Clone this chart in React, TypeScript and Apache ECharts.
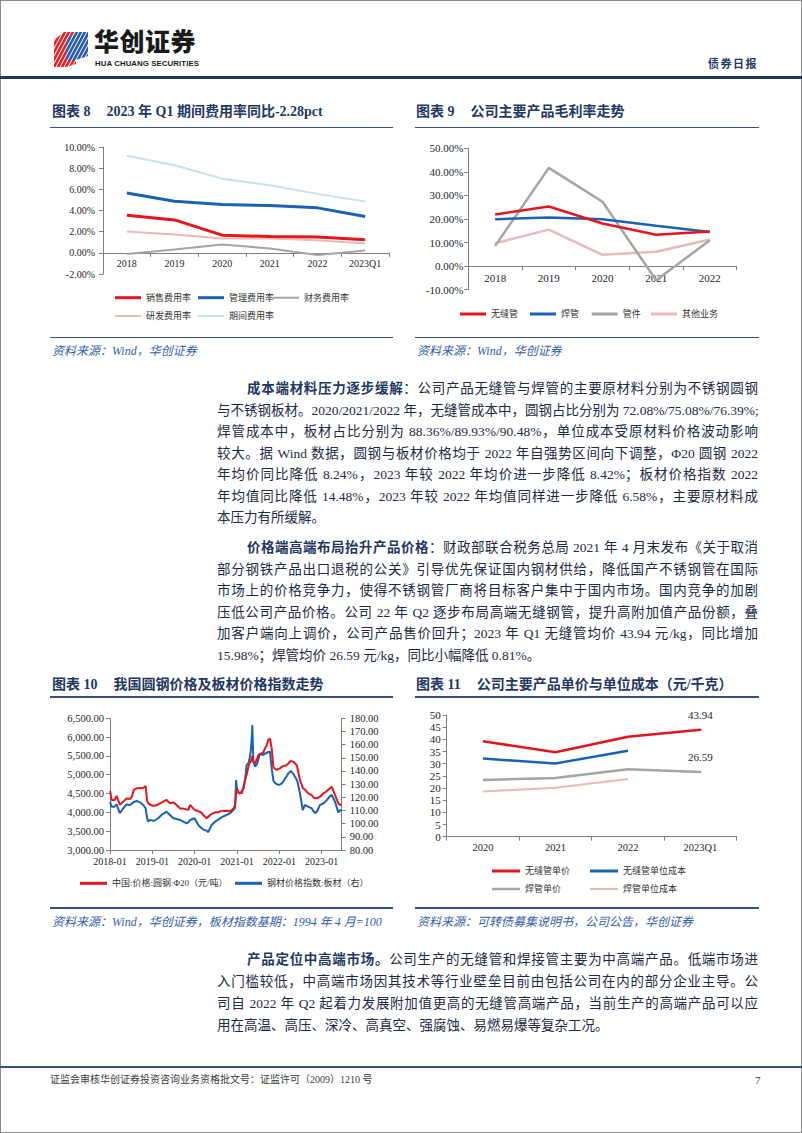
import React, { useEffect, useRef } from 'react';
import * as echarts from 'echarts';

// ---------- Chart 8 data ----------
const c8Cats = ['2018', '2019', '2020', '2021', '2022', '2023Q1'];
const c8Sales = [3.55, 3.11, 1.67, 1.54, 1.49, 1.23];
const c8Mgmt = [5.66, 4.87, 4.56, 4.47, 4.25, 3.43];
const c8Fin = [-0.1, 0.31, 0.79, 0.41, -0.2, 0.22];
const c8Rd = [2.01, 1.73, 1.35, 1.35, 1.2, 0.88];
const c8Period = [9.18, 8.27, 7.01, 6.38, 5.57, 4.84];

// ---------- Chart 9 data ----------
const c9Cats = ['2018', '2019', '2020', '2021', '2022'];
const c9Seamless = [21.9, 25.3, 18.1, 13.3, 14.7];
const c9Welded = [19.9, 20.6, 19.9, 17.1, 14.5];
const c9Fittings = [8.6, 41.7, 27.3, -6.0, 11.0];
const c9Other = [9.7, 15.5, 4.8, 6.1, 11.3];

// ---------- Chart 10 data ----------
const c10Dates = [
  '2018-01-02', '2018-01-15', '2018-02-10', '2018-02-27', '2018-03-27', '2018-04-25', '2018-05-24', '2018-06-22',
  '2018-07-10', '2018-07-25', '2018-08-19', '2018-09-17', '2018-10-15', '2018-11-04', '2018-11-18', '2018-11-27',
  '2018-12-11', '2019-01-01', '2019-01-14', '2019-02-21', '2019-03-21', '2019-04-05', '2019-05-04', '2019-06-02',
  '2019-07-01', '2019-07-30', '2019-08-28', '2019-09-25', '2019-10-24', '2019-11-08', '2019-11-22', '2020-01-01',
  '2020-02-01', '2020-03-02', '2020-03-16', '2020-04-14', '2020-04-28', '2020-05-13', '2020-05-27', '2020-06-25',
  '2020-07-24', '2020-08-07', '2020-09-05', '2020-10-04', '2020-11-02', '2020-12-01', '2020-12-15', '2020-12-24',
  '2021-01-01', '2021-01-12', '2021-01-27', '2021-02-10', '2021-02-25', '2021-03-11', '2021-03-25', '2021-04-09',
  '2021-04-17', '2021-04-29', '2021-05-08', '2021-05-13', '2021-05-22', '2021-06-06', '2021-06-25', '2021-07-04',
  '2021-07-19', '2021-08-02', '2021-08-16', '2021-08-31', '2021-09-14', '2021-09-28', '2021-10-12', '2021-10-27',
  '2021-11-10', '2021-11-16', '2021-12-09', '2021-12-23', '2022-01-07', '2022-01-22', '2022-02-05', '2022-02-20',
  '2022-03-06', '2022-03-20', '2022-04-09', '2022-05-01', '2022-05-07', '2022-05-30', '2022-06-05', '2022-06-28',
  '2022-07-22', '2022-08-11', '2022-08-25', '2022-09-09', '2022-09-23', '2022-10-07', '2022-10-22', '2022-11-05',
  '2022-11-25', '2022-12-18', '2023-01-16', '2023-01-31', '2023-02-14', '2023-03-15', '2023-03-29', '2023-04-26',
  '2023-05-25', '2023-06-08', '2023-06-23',
];
const c10RoundSteel = [
  4570, 4330, 4330, 4440, 4200, 4285, 4370, 4355,
  4420, 4600, 4640, 4640, 4655, 4700, 4290, 4250,
  4210, 4180, 4175, 4210, 4260, 4285, 4330, 4240,
  4265, 4195, 4105, 4100, 4080, 4065, 4195, 4065,
  4035, 3990, 3930, 3845, 3880, 3930, 3960, 4000,
  4000, 4030, 4036, 4045, 4030, 4100, 4196, 4500,
  4640, 4533, 4520, 4506, 4650, 4860, 5000, 5214,
  5300, 5350, 5436, 5500, 5350, 5304, 5450, 5525,
  5540, 5569, 5600, 5702, 5780, 5923, 5968, 5702,
  5214, 5180, 5127, 5150, 5170, 5214, 5230, 5240,
  5259, 5300, 5365, 5348, 5330, 5259, 5200, 4860,
  4650, 4600, 4550, 4506, 4480, 4462, 4400, 4373,
  4380, 4417, 4506, 4530, 4568, 4639, 4683, 4462,
  4240, 4196, 4213,
];
const c10PlateIndex = [
  116.7, 112.9, 112.9, 114.6, 107.9, 111.7, 114.6, 114.2,
  115.4, 116.5, 117.2, 116.2, 114.2, 111.7, 104.0, 101.5,
  102.8, 102.5, 102.0, 104.1, 106.6, 107.5, 109.1, 106.6,
  104.1, 103.5, 102.8, 101.5, 100.3, 101.0, 102.8, 104.1,
  99.0, 96.5, 95.5, 94.7, 93.5, 96.5, 99.0, 101.5,
  103.0, 104.1, 105.5, 106.6, 107.9, 110.4, 112.0, 133.1,
  126.0, 123.5, 122.9, 124.5, 126.7, 133.0, 144.5, 146.0,
  148.3, 154.6, 165.0, 174.9, 147.0, 143.2, 145.8, 149.0,
  153.4, 152.5, 152.1, 153.4, 153.4, 154.6, 154.6, 142.0,
  133.0, 131.9, 130.0, 129.4, 129.8, 130.6, 132.0, 134.4,
  136.0, 138.2, 140.0, 138.0, 137.0, 133.5, 132.4, 123.0,
  110.4, 114.2, 113.5, 112.9, 112.2, 111.7, 109.5, 107.9,
  109.6, 114.2, 115.4, 116.5, 117.9, 121.0, 121.8, 116.7,
  108.6, 110.4, 109.6,
];

// ---------- Chart 11 data ----------
const c11Cats = ['2020', '2021', '2022', '2023Q1'];
const c11SeamlessPrice = [39.2, 34.7, 41.1, 43.94];
const c11SeamlessCost = [32.1, 30.1, 35.3, null];
const c11WeldedPrice = [23.3, 24.1, 27.7, 26.59];
const c11WeldedCost = [18.6, 20.1, 23.7, null];

const FONT = "'Liberation Serif','Times New Roman','Noto Sans CJK SC',serif";
const AX = '#7f7f7f';
const RED = '#e3161e';
const BLUE = '#1a62b6';
const GRAY = '#a5a5a5';
const PINK = '#e9b9bb';
const LBLUE = '#c6e2ea';
const NAVY = '#1f3864';

function EChart({ option, style }: { option: any; style: React.CSSProperties }) {
  const ref = useRef<HTMLDivElement>(null);
  useEffect(() => {
    const chart = echarts.init(ref.current as HTMLDivElement, null, { renderer: 'svg' });
    chart.setOption(option);
    return () => chart.dispose();
  }, []);
  return <div ref={ref} style={{ position: 'absolute', ...style }} />;
}

function lg(name: string, left: number, centerY: number, thick: number, itemWidth = 26) {
  return {
    data: [name],
    left,
    top: centerY - 6,
    padding: 0,
    icon: 'rect',
    itemWidth,
    itemHeight: thick,
    selectedMode: false,
    textStyle: { fontSize: 9, color: '#333', fontFamily: FONT, lineHeight: 12 },
  };
}

function line(name: string, data: any[], color: string, width: number, extra: any = {}) {
  return {
    type: 'line',
    name,
    data,
    symbol: 'none',
    lineStyle: { color, width },
    itemStyle: { color },
    ...extra,
  };
}

const catX = (data: string[], fontSize: number, margin: number, offset: number) => ({
  type: 'category',
  data,
  boundaryGap: true,
  offset,
  axisLine: { onZero: false, lineStyle: { color: AX } },
  axisTick: { show: true, length: 4, lineStyle: { color: AX } },
  axisLabel: { fontSize, color: '#262626', fontFamily: FONT, margin },
});

const valY = (min: number, max: number, interval: number, formatter: any, fontSize = 10, margin = 8) => ({
  type: 'value',
  min,
  max,
  interval,
  axisLine: { show: true, onZero: false, lineStyle: { color: AX } },
  axisTick: { show: true, length: 4, lineStyle: { color: AX } },
  splitLine: { show: false },
  axisLabel: { formatter, fontSize, color: '#262626', fontFamily: FONT, margin },
});

// chart 8: grid height 127, zero sits 2/12 of it above the bottom
const opt8 = {
  animation: false,
  grid: { left: 63, top: 12, width: 286, height: 127 },
  xAxis: catX(c8Cats, 10, 6, -127 * (2 / 12)),
  yAxis: valY(-2, 10, 2, (v: number) => v.toFixed(2) + '%', 10, 8),
  legend: [
    lg('销售费用率', 75, 162.7, 3),
    lg('管理费用率', 158, 162.7, 3),
    lg('财务费用率', 233, 162.7, 2),
    lg('研发费用率', 75, 181, 2),
    lg('期间费用率', 158, 181, 2),
  ],
  series: [
    line('期间费用率', c8Period, LBLUE, 2),
    line('研发费用率', c8Rd, PINK, 2),
    line('财务费用率', c8Fin, GRAY, 2),
    line('管理费用率', c8Mgmt, BLUE, 3),
    line('销售费用率', c8Sales, RED, 3),
  ],
};

// chart 9: grid height 141.4, zero sits 10/60 of it above the bottom
const opt9 = {
  animation: false,
  grid: { left: 63.3, top: 13.3, width: 268.4, height: 141.4 },
  xAxis: catX(c9Cats, 11, 6, -141.4 * (10 / 60)),
  yAxis: valY(-10, 50, 10, (v: number) => v.toFixed(2) + '%', 11, 5),
  legend: [
    lg('无缝管', 55, 179, 3),
    lg('焊管', 125, 179, 3),
    lg('管件', 186.7, 179, 3),
    lg('其他业务', 246, 179, 3),
  ],
  series: [
    line('其他业务', c9Other, PINK, 2.5),
    line('管件', c9Fittings, GRAY, 2.5),
    line('焊管', c9Welded, BLUE, 2.5),
    line('无缝管', c9Seamless, RED, 2.5),
  ],
};

const opt10 = {
  animation: false,
  grid: { left: 70, top: 13.3, width: 231.7, height: 131.7 },
  xAxis: {
    type: 'time',
    min: '2018-01-01',
    max: '2023-06-23',
    axisLine: { onZero: false, lineStyle: { color: AX } },
    axisTick: { show: true, length: 4, lineStyle: { color: AX } },
    splitLine: { show: false },
    axisLabel: { formatter: '{yyyy}-{MM}', fontSize: 10, color: '#262626', fontFamily: FONT, margin: 6, hideOverlap: false },
  },
  yAxis: [
    valY(3000, 6500, 500, (v: number) => v.toLocaleString('en-US', { minimumFractionDigits: 2, maximumFractionDigits: 2 }), 10.5, 6),
    { ...valY(80, 180, 10, (v: number) => v.toFixed(2), 10.5, 8), position: 'right' },
  ],
  legend: [lg('中国:价格:圆钢:Φ20（元/吨）', 40, 178.3, 3, 27), lg('钢材价格指数:板材（右）', 195, 178.3, 3, 27)],
  series: [
    line('钢材价格指数:板材（右）', c10Dates.map((d, i) => [d, c10PlateIndex[i]]), BLUE, 2, { yAxisIndex: 1 }),
    line('中国:价格:圆钢:Φ20（元/吨）', c10Dates.map((d, i) => [d, c10RoundSteel[i]]), RED, 2, { yAxisIndex: 0 }),
  ],
};

const lastLabel = (arr: (number | null)[], color: string) =>
  arr.map((v, i) =>
    i === arr.length - 1 && v != null
      ? {
          value: v,
          symbol: 'circle',
          symbolSize: 2,
          itemStyle: { color },
          label: {
            show: true,
            position: 'top',
            distance: 8,
            fontSize: 11,
            color: '#262626',
            fontFamily: FONT,
            formatter: (p: any) => Number(p.value).toFixed(2),
          },
        }
      : v
  );

const opt11 = {
  animation: false,
  grid: { left: 41.7, top: 15, width: 290, height: 121.7 },
  xAxis: catX(c11Cats, 10.5, 6, 0),
  yAxis: valY(0, 50, 5, (v: number) => String(v), 11, 6),
  legend: [
    lg('无缝管单价', 87, 171, 3, 28),
    lg('无缝管单位成本', 185, 171, 3, 28),
    lg('焊管单价', 87, 189, 2.5, 28),
    lg('焊管单位成本', 185, 189, 2, 28),
  ],
  series: [
    line('焊管单位成本', c11WeldedCost, PINK, 2),
    line('焊管单价', lastLabel(c11WeldedPrice, GRAY), GRAY, 2.5),
    line('无缝管单位成本', c11SeamlessCost, BLUE, 2.5),
    line('无缝管单价', lastLabel(c11SeamlessPrice, RED), RED, 2.5),
  ],
};

// ---------- Page pieces ----------
const abs = (left: number, top: number, extra: React.CSSProperties = {}): React.CSSProperties => ({
  position: 'absolute',
  left,
  top,
  ...extra,
});

function Title({ x, y, num, text }: { x: number; y: number; num: string; text: string }) {
  return (
    <div style={abs(x, y - 9, { fontFamily: FONT, fontWeight: 700, fontSize: 14, lineHeight: '18px', color: NAVY, whiteSpace: 'nowrap' })}>
      <span>图表 {num}</span>
      <span style={{ marginLeft: 16 }}>{text}</span>
    </div>
  );
}

function HLine({ x, y, w, h = 1.5, color = '#3b4f7d' }: { x: number; y: number; w: number; h?: number; color?: string }) {
  return <div style={abs(x, y, { width: w, height: h, background: color })} />;
}

function Source({ x, y, text }: { x: number; y: number; text: string }) {
  return (
    <div style={abs(x, y - 8, { fontFamily: FONT, fontStyle: 'italic', fontSize: 12, lineHeight: '16px', color: '#3560aa', whiteSpace: 'nowrap' })}>
      {text}
    </div>
  );
}

const LEFT = 217;
const RIGHT = 758;
const INDENT = 247;

function TL({ y, first, last, children }: { y: number; first?: boolean; last?: boolean; children: React.ReactNode }) {
  const left = first ? INDENT : LEFT;
  return (
    <div
      style={abs(left, y - 10, {
        width: RIGHT - left,
        height: 20,
        lineHeight: '20px',
        fontSize: 13.5,
        fontFamily: FONT,
        color: '#1e2a45',
        textAlign: 'justify',
        textAlignLast: last ? 'left' : 'justify',
        whiteSpace: 'nowrap',
      } as React.CSSProperties)}
    >
      {children}
    </div>
  );
}

const B = ({ children }: { children: React.ReactNode }) => (
  <span style={{ fontWeight: 700, color: NAVY }}>{children}</span>
);

function Logo() {
  return (
    <svg style={abs(54, 30)} width={34} height={37} viewBox="0 0 34 37">
      <defs>
        <clipPath id="lgclip">
          <rect x="0" y="0" width="34" height="37" />
        </clipPath>
      </defs>
      <polygon points="0,10 10,2 22,2 12,10 12,37 0,37" fill="#e0262b" />
      <polygon points="12,10 22,2 34,2 34,26 22,30 12,30" fill="#2a5caa" />
      <polygon points="0,37 12,30 22,30 22,34 12,37" fill="#e0262b" />
      <g clipPath="url(#lgclip)" stroke="#ffffff" strokeWidth="1">
        {[0, 4, 8, 12, 16, 20, 24, 28, 32, 36, 40, 44, 48].map((k) => (
          <line key={k} x1={k - 14} y1={37} x2={k + 6} y2={0} />
        ))}
      </g>
    </svg>
  );
}

export default function App() {
  return (
    <div style={{ position: 'absolute', left: 0, top: 0, width: 802, height: 1133, background: '#fff', overflow: 'hidden' }}>
      <div style={abs(0, 0, { width: 802, height: 1133, border: '1px solid #8c8c8c', boxSizing: 'border-box' })} />

      {/* Header */}
      <Logo />
      <div style={abs(94, 27.6, { fontFamily: "'Noto Sans CJK SC',sans-serif", fontWeight: 900, fontSize: 25, lineHeight: '25px', color: '#1a1a1a', letterSpacing: 0.5, whiteSpace: 'nowrap' })}>
        华创证券
      </div>
      <div style={abs(95, 58.6, { fontFamily: "'Liberation Sans',Arial,sans-serif", fontWeight: 700, fontSize: 7.8, lineHeight: '9px', color: '#1a1a1a', whiteSpace: 'nowrap', letterSpacing: 0.1 })}>
        HUA CHUANG SECURITIES
      </div>
      <div style={abs(708, 56, { fontFamily: "'Noto Sans CJK SC',sans-serif", fontWeight: 700, fontSize: 11, lineHeight: '14px', color: NAVY, letterSpacing: 1.5 })}>
        债券日报
      </div>
      <HLine x={0} y={76} w={802} h={3} color={NAVY} />

      {/* Chart 8 & 9 */}
      <Title x={52} y={112} num="8" text="2023 年 Q1 期间费用率同比-2.28pct" />
      <HLine x={50} y={126.5} w={343} />
      <EChart option={opt8} style={{ left: 40, top: 135, width: 360, height: 195 }} />
      <HLine x={50} y={336.5} w={343} />
      <Source x={52} y={351} text="资料来源：Wind，华创证券" />

      <Title x={416} y={112} num="9" text="公司主要产品毛利率走势" />
      <HLine x={415} y={126.5} w={344} />
      <EChart option={opt9} style={{ left: 405, top: 135, width: 370, height: 195 }} />
      <HLine x={415} y={336.5} w={344} />
      <Source x={417} y={351} text="资料来源：Wind，华创证券" />

      {/* Paragraph 1 */}
      <TL y={389} first><B>成本端材料压力逐步缓解</B>：公司产品无缝管与焊管的主要原材料分别为不锈钢圆钢</TL>
      <TL y={410.5}>与不锈钢板材。2020/2021/2022 年，无缝管成本中，圆钢占比分别为 72.08%/75.08%/76.39%;</TL>
      <TL y={432}>焊管成本中，板材占比分别为 88.36%/89.93%/90.48%，单位成本受原材料价格波动影响</TL>
      <TL y={453.5}>较大。据 Wind 数据，圆钢与板材价格均于 2022 年自强势区间向下调整，Φ20 圆钢 2022</TL>
      <TL y={475}>年均价同比降低 8.24%，2023 年较 2022 年均价进一步降低 8.42%；板材价格指数 2022</TL>
      <TL y={496.5}>年均值同比降低 14.48%，2023 年较 2022 年均值同样进一步降低 6.58%，主要原材料成</TL>
      <TL y={518} last>本压力有所缓解。</TL>

      {/* Paragraph 2 */}
      <TL y={548} first><B>价格端高端布局抬升产品价格</B>：财政部联合税务总局 2021 年 4 月末发布《关于取消</TL>
      <TL y={569.5}>部分钢铁产品出口退税的公关》引导优先保证国内钢材供给，降低国产不锈钢管在国际</TL>
      <TL y={591}>市场上的价格竞争力，使得不锈钢管厂商将目标客户集中于国内市场。国内竞争的加剧</TL>
      <TL y={612.5}>压低公司产品价格。公司 22 年 Q2 逐步布局高端无缝钢管，提升高附加值产品份额，叠</TL>
      <TL y={634}>加客户端向上调价，公司产品售价回升；2023 年 Q1 无缝管均价 43.94 元/kg，同比增加</TL>
      <TL y={655.5} last>15.98%；焊管均价 26.59 元/kg，同比小幅降低 0.81%。</TL>

      {/* Chart 10 & 11 */}
      <Title x={52} y={685} num="10" text="我国圆钢价格及板材价格指数走势" />
      <HLine x={50} y={696} w={343} />
      <EChart option={opt10} style={{ left: 40, top: 705, width: 360, height: 195 }} />
      <HLine x={50} y={907} w={343} />
      <Source x={52} y={921.5} text="资料来源：Wind，华创证券，板材指数基期：1994 年 4 月=100" />

      <Title x={416} y={685} num="11" text="公司主要产品单价与单位成本（元/千克）" />
      <HLine x={415} y={696} w={344} />
      <EChart option={opt11} style={{ left: 405, top: 700, width: 370, height: 200 }} />
      <HLine x={415} y={907} w={344} />
      <Source x={417} y={921.5} text="资料来源：可转债募集说明书，公司公告，华创证券" />

      {/* Paragraph 3 */}
      <TL y={960} first><B>产品定位中高端市场。</B>公司生产的无缝管和焊接管主要为中高端产品。低端市场进</TL>
      <TL y={982}>入门槛较低，中高端市场因其技术等行业壁垒目前由包括公司在内的部分企业主导。公</TL>
      <TL y={1004}>司自 2022 年 Q2 起着力发展附加值更高的无缝管高端产品，当前生产的高端产品可以应</TL>
      <TL y={1026} last>用在高温、高压、深冷、高真空、强腐蚀、易燃易爆等复杂工况。</TL>

      {/* Footer */}
      <HLine x={0} y={1066} w={802} h={2} color="#3b4f7d" />
      <div style={abs(50, 1073, { fontFamily: FONT, fontSize: 10, lineHeight: '14px', color: '#3a3a3a', whiteSpace: 'nowrap' })}>
        证监会审核华创证券投资咨询业务资格批文号：证监许可（2009）1210 号
      </div>
      <div style={abs(755, 1073, { fontFamily: FONT, fontSize: 11, lineHeight: '14px', color: '#3a3a3a' })}>7</div>
    </div>
  );
}
